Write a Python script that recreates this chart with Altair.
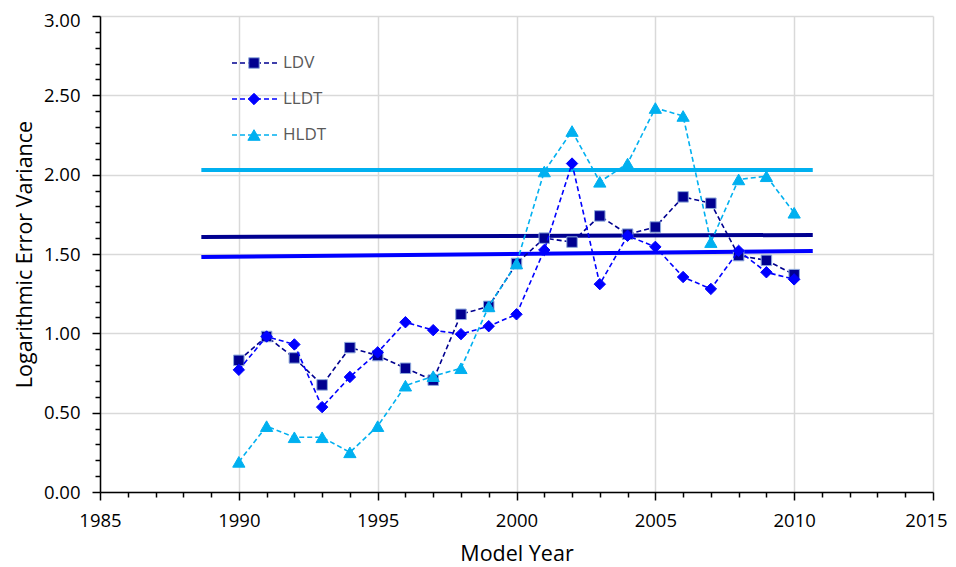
import altair as alt
import pandas as pd

years = list(range(1990, 2011))
ldv = [0.83, 0.98, 0.845, 0.675, 0.91, 0.86, 0.78, 0.705, 1.12, 1.17, 1.44,
       1.60, 1.575, 1.74, 1.625, 1.67, 1.86, 1.82, 1.49, 1.46, 1.37]
lldt = [0.77, 0.98, 0.93, 0.535, 0.725, 0.88, 1.07, 1.02, 0.995, 1.045, 1.12,
        1.525, 2.07, 1.31, 1.615, 1.545, 1.355, 1.28, 1.52, 1.385, 1.34]
hldt = [0.19, 0.415, 0.345, 0.345, 0.25, 0.415, 0.67, 0.73, 0.78, 1.17, 1.44,
        2.02, 2.275, 1.955, 2.07, 2.42, 2.37, 1.575, 1.97, 1.99, 1.76]

series_names = ["LDV", "LLDT", "HLDT"]
series_values = [ldv, lldt, hldt]
colors = ["#000090", "#0000FF", "#00B0F0"]
shapes = ["square", "diamond", "triangle-up"]
sizes = [110, 130, 150]
strokes = ["#8FAADC", "#0000FF", "#00B0F0"]

trend_x = [1988.65, 2010.67]
trend_vals = [[1.607, 1.62], [1.481, 1.519], [2.03, 2.03]]

x_ticks = list(range(1985, 2016))
y_ticks = [round(i * 0.1, 1) for i in range(31)]

FONT = "Open Sans"
GRID = "#D9D9D9"
LABEL_SIZE = 18.5
TITLE_SIZE = 21.5

major_x = "datum.value % 5 == 0"
major_y = "abs(datum.value*2 - round(datum.value*2)) < 0.001"

common_axis = dict(
    labelOverlap=False,
    labelFlush=False,
    grid=True,
    gridColor=GRID,
    gridWidth=1.5,
    domainColor="black",
    domainWidth=1.5,
    tickColor="black",
    tickWidth=1.5,
    labelFont=FONT,
    labelFontSize=LABEL_SIZE,
    labelColor="black",
    titleFont=FONT,
    titleFontSize=TITLE_SIZE,
    titleFontWeight="normal",
    titleColor="black",
)

x_enc = alt.X(
    "year:Q",
    title="Model Year",
    scale=alt.Scale(domain=[1985, 2015], nice=False, zero=False),
    axis=alt.Axis(
        values=x_ticks,
        format="d",
        labelExpr="datum.value % 5 == 0 ? datum.label : ''",
        tickSize={"condition": {"test": major_x, "value": 8}, "value": 5},
        gridOpacity={"condition": {"test": major_x, "value": 1}, "value": 0},
        labelOffset={"condition": {"test": "datum.value == 2015", "value": -7}, "value": 0},
        labelPadding=11,
        titlePadding=14,
        **common_axis,
    ),
)

y_enc = alt.Y(
    "value:Q",
    title="Logarithmic Error Variance",
    scale=alt.Scale(domain=[0, 3], nice=False, zero=True),
    axis=alt.Axis(
        values=y_ticks,
        format=".2f",
        labelExpr=major_y + " ? datum.label : ''",
        tickSize={"condition": {"test": major_y, "value": 8}, "value": 5},
        gridOpacity={"condition": {"test": major_y, "value": 1}, "value": 0},
        labelOffset={"condition": {"test": "datum.value == 3", "value": 4}, "value": 0},
        labelPadding=12,
        titlePadding=7,
        **common_axis,
    ),
)

layers = []

# trend lines
for name, col, tv in zip(series_names, colors, trend_vals):
    df = pd.DataFrame({"year": trend_x, "value": tv})
    layers.append(
        alt.Chart(df).mark_line(color=col, strokeWidth=4).encode(x=x_enc, y=y_enc)
    )

# series
for name, vals, col, shp, sz, stk in zip(series_names, series_values, colors, shapes, sizes, strokes):
    df = pd.DataFrame({"year": years, "value": vals})
    layers.append(
        alt.Chart(df).mark_line(color=col, strokeWidth=1.6, strokeDash=[5, 3]).encode(x=x_enc, y=y_enc)
    )
    layers.append(
        alt.Chart(df).mark_point(filled=True, shape=shp, size=sz, color=col, stroke=stk,
                                 strokeWidth=1, opacity=1).encode(x=x_enc, y=y_enc)
    )

# manual legend
for i, (name, col, shp, sz, stk) in enumerate(zip(series_names, colors, shapes, sizes, strokes)):
    ly = 47 + 36 * i
    ldf = pd.DataFrame({"s": [name]})
    base = alt.Chart(ldf)
    layers.append(
        base.mark_rule(color=col, strokeWidth=1.6, strokeDash=[5, 3]).encode(
            x=alt.value(132), x2=alt.value(177), y=alt.value(ly))
    )
    layers.append(
        base.mark_point(filled=True, shape=shp, size=sz, color=col, stroke=stk,
                        strokeWidth=1, opacity=1).encode(x=alt.value(154), y=alt.value(ly))
    )
    layers.append(
        base.mark_text(align="left", baseline="middle", font=FONT, fontSize=17,
                       color="#595959").encode(x=alt.value(183), y=alt.value(ly), text="s:N")
    )

chart = alt.layer(*layers).properties(
    width=833,
    height=476,
    autosize="none",
    padding={"left": 92, "top": 8, "right": 15, "bottom": 74},
).configure_view(stroke=None)

chart.save("out.html", embed_options={"renderer": "svg", "actions": False})
